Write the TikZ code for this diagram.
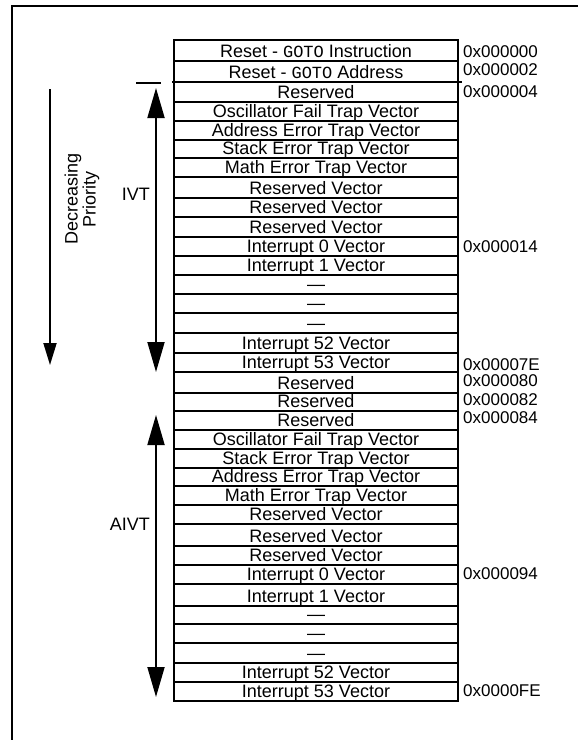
\documentclass[tikz,border=0pt]{standalone}
\usepackage{fontspec}
\setmainfont{Liberation Sans}
\newfontfamily\monofam{Liberation Mono}
\usetikzlibrary{arrows.meta}
\newcommand{\gotoword}{{\monofam\fontsize{17}{17}\selectfont GOTO}}
\tikzset{
  rowtext/.style={anchor=base, inner sep=0pt, font=\fontsize{18}{18}\selectfont},
  addrtext/.style={anchor=base west, inner sep=0pt, font=\fontsize{17}{17}\selectfont},
  sidetext/.style={inner sep=0pt, font=\fontsize{18}{18}\selectfont},
  tblline/.style={line width=1.8pt},
  framel/.style={line width=2pt},
  bigarrow/.style={line width=1.8pt, {Triangle[length=30pt,width=17pt]}-{Triangle[length=30pt,width=17pt]}},
  prioarrow/.style={line width=1.8pt, -{Triangle[length=22pt,width=13pt]}}
}
\begin{document}
\begin{tikzpicture}[x=1pt,y=-1pt]
\useasboundingbox (0,0) rectangle (578,740);
% frame (cropped at right and bottom)
\draw[framel] (12,740) -- (12,6) -- (578,6);
% table
\draw[tblline] (174,40) rectangle (458,701);
\foreach \yy in {61,102,121,140,158,177,198,217,237,256,275,294,313,333,353,372,393,411,430,449,468,486,505,524,546,565,584,606,624,643,663,682}
  \draw[tblline] (174,\yy) -- (458,\yy);
\draw[tblline] (172,82) -- (462,82);
% row texts
\foreach \b/\t [count=\i] in {
  61/{Reset - \gotoword{} Instruction},
  82/{Reset - \gotoword{} Address},
  102/{Reserved},
  121/{Oscillator Fail Trap Vector},
  140/{Address Error Trap Vector},
  158/{Stack Error Trap Vector},
  177/{Math Error Trap Vector},
  198/{Reserved Vector},
  217/{Reserved Vector},
  237/{Reserved Vector},
  256/{Interrupt 0 Vector},
  275/{Interrupt 1 Vector},
  294/{---},
  313/{---},
  333/{---},
  353/{Interrupt 52 Vector},
  372/{Interrupt 53 Vector},
  393/{Reserved},
  411/{Reserved},
  430/{Reserved},
  449/{Oscillator Fail Trap Vector},
  468/{Stack Error Trap Vector},
  486/{Address Error Trap Vector},
  505/{Math Error Trap Vector},
  524/{Reserved Vector},
  546/{Reserved Vector},
  565/{Reserved Vector},
  584/{Interrupt 0 Vector},
  606/{Interrupt 1 Vector},
  624/{---},
  643/{---},
  663/{---},
  682/{Interrupt 52 Vector},
  701/{Interrupt 53 Vector}}
  \node[rowtext] (r\i) at (316,\b-4) {\t};
% addresses
\node[addrtext] (a0) at (463,57) {0x000000};
\node[addrtext] (a2) at (463,75) {0x000002};
\node[addrtext] (a4) at (463,97) {0x000004};
\node[addrtext] (a14) at (463,252) {0x000014};
\node[addrtext] (a7e) at (463,370) {0x00007E};
\node[addrtext] (a80) at (463,386) {0x000080};
\node[addrtext] (a82) at (463,405) {0x000082};
\node[addrtext] (a84) at (463,423) {0x000084};
\node[addrtext] (a94) at (463,579) {0x000094};
\node[addrtext] (afe) at (463,696) {0x0000FE};
% IVT arrow
\coordinate (ivtT) at (156,88);
\coordinate (ivtB) at (156,372);
\draw[bigarrow] (ivtT) -- (ivtB);
\draw[line width=1.8pt] (136,83) -- (161,83);
\node[sidetext, anchor=base east] (ivt) at (150,200) {IVT};
% AIVT arrow
\coordinate (aivtT) at (156,415);
\coordinate (aivtB) at (156,697);
\draw[bigarrow] (aivtT) -- (aivtB);
\node[sidetext, anchor=base east] (aivt) at (150,530) {AIVT};
% decreasing priority
\coordinate (prT) at (50,89);
\coordinate (prB) at (50,365);
\draw[prioarrow] (prT) -- (prB);
\node[sidetext, rotate=90, align=center, font=\fontsize{18}{18}\selectfont] (prio) at (82,199) {Decreasing\\Priority};
\end{tikzpicture}
\end{document}
